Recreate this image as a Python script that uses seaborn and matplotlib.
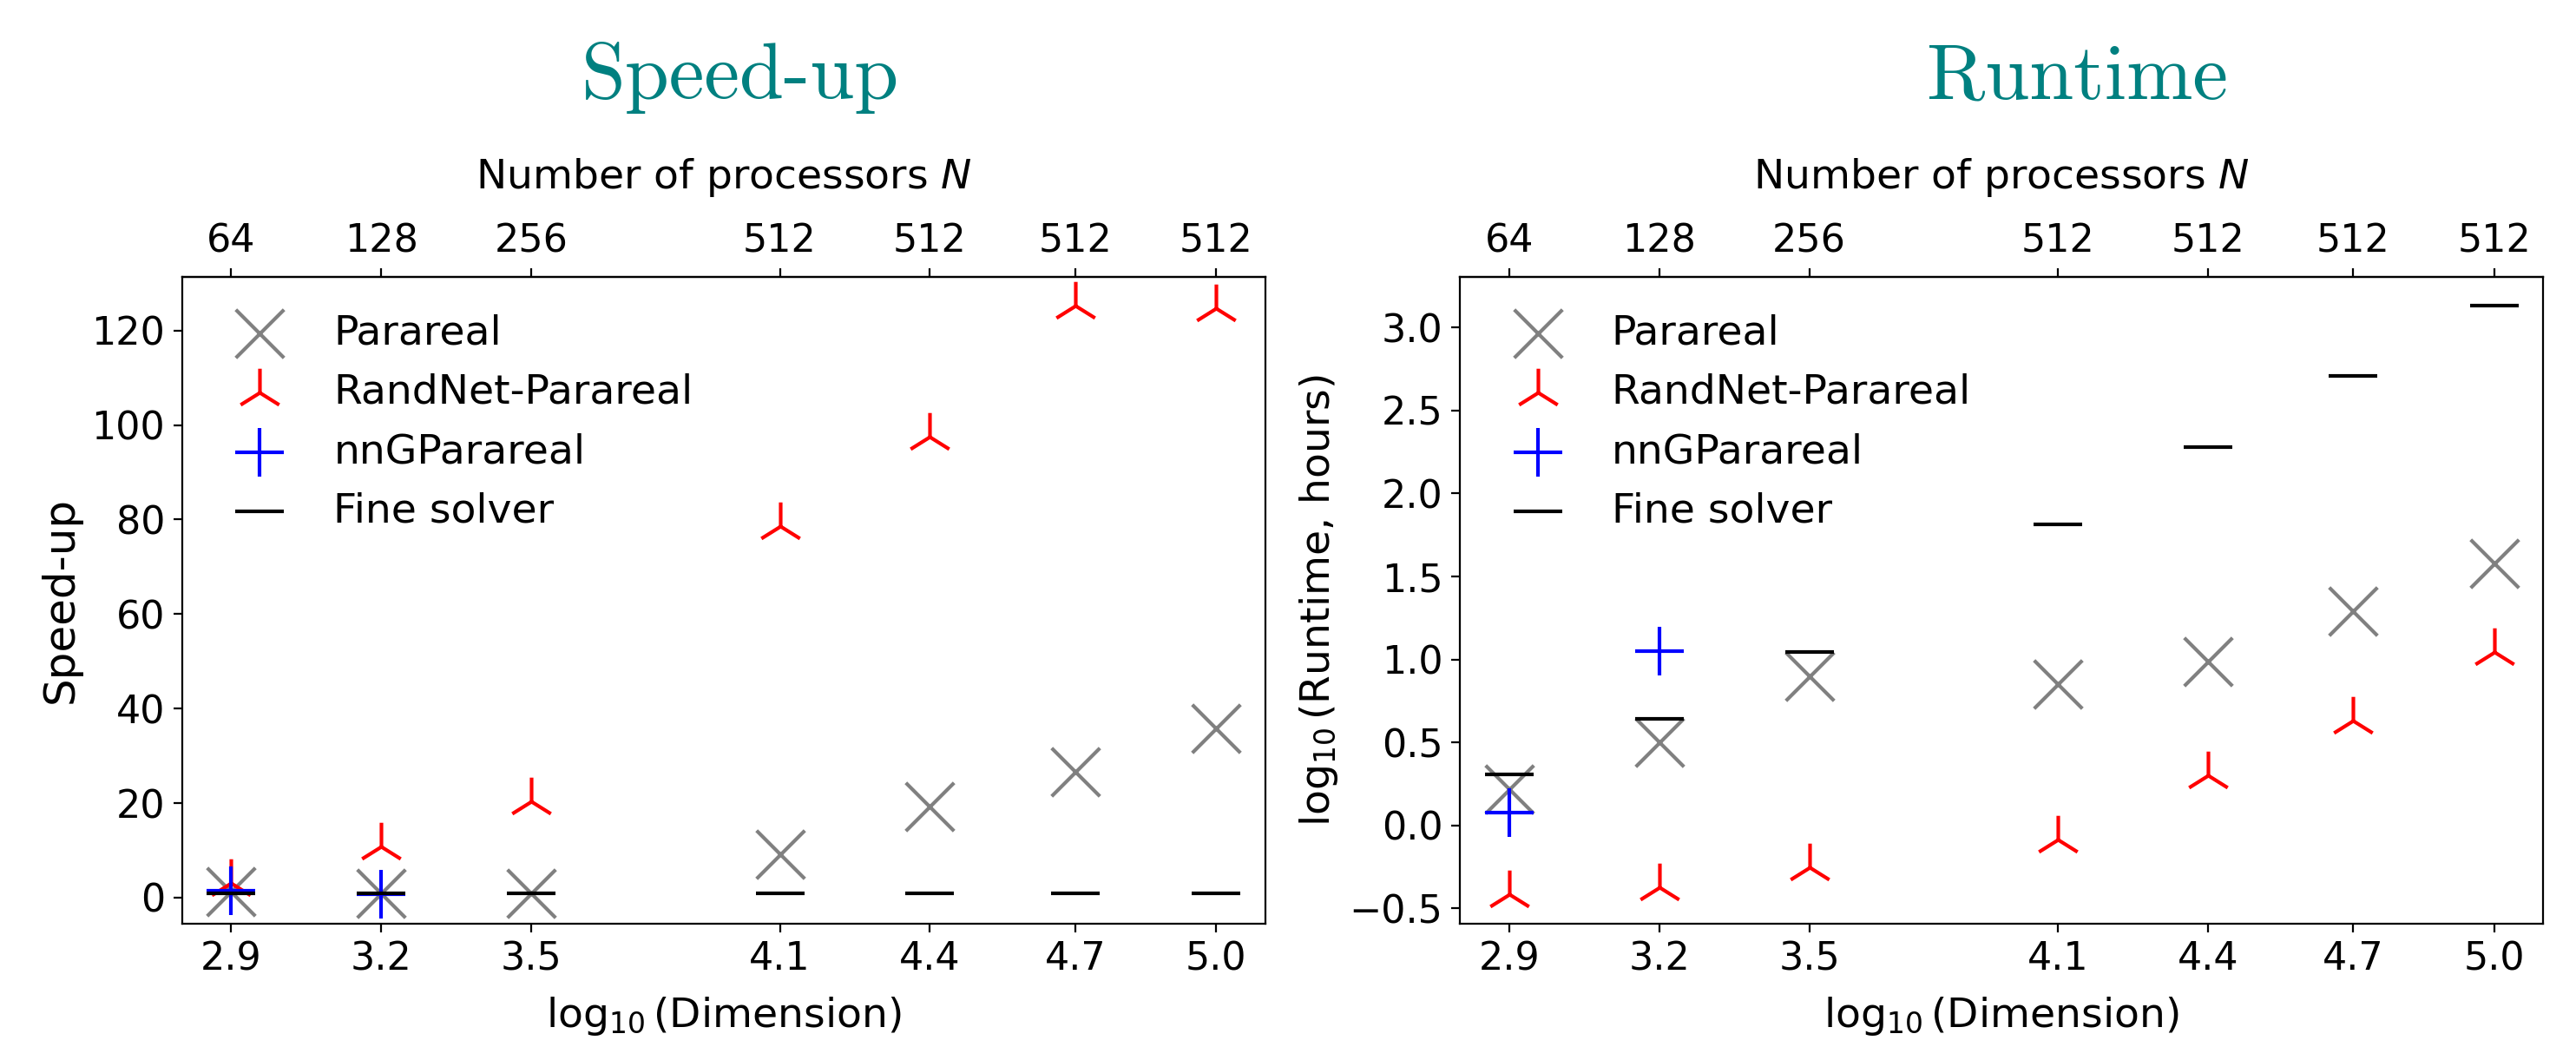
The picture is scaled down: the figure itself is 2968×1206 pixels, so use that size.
import numpy as np
import matplotlib
matplotlib.use("Agg")
import matplotlib.pyplot as plt
import seaborn as sns

# data
log_dim = [2.9, 3.22, 3.54, 4.07, 4.39, 4.70, 5.0]
dim_labels = ["2.9", "3.2", "3.5", "4.1", "4.4", "4.7", "5.0"]
n_procs = ["64", "128", "256", "512", "512", "512", "512"]

speedup_parareal = [1.3, 0.9, 1.0, 9.2, 19.2, 26.7, 35.8]
speedup_randnet = [3.1, 10.8, 20.4, 78.6, 97.6, 125.2, 124.8]
speedup_nng = [1.5, 0.7]
speedup_fine = [1, 1, 1, 1, 1, 1, 1]

runtime_parareal = [0.22, 0.50, 0.90, 0.85, 0.99, 1.29, 1.58]
runtime_randnet = [-0.415, -0.37, -0.25, -0.085, 0.30, 0.63, 1.045]
runtime_nng = [0.08, 1.05]
runtime_fine = [0.31, 0.64, 1.045, 1.815, 2.28, 2.71, 3.13]

plt.rcParams["xtick.labelsize"] = 16
plt.rcParams["ytick.labelsize"] = 16

fig = plt.figure(figsize=(14.84, 6.03), dpi=200)
ax1 = fig.add_axes([0.0706, 0.1177, 0.4206, 0.6182])
ax2 = fig.add_axes([0.5667, 0.1177, 0.4206, 0.6182])

ms = 400
lw = 1.5


def draw(ax, par, rnd, nng, fine):
    sns.scatterplot(x=log_dim, y=par, marker="x", color="gray", s=ms,
                    linewidth=lw, label="Parareal", ax=ax)
    sns.scatterplot(x=log_dim, y=rnd, marker="2", color="red", s=ms,
                    linewidth=lw, label="RandNet-Parareal", ax=ax)
    sns.scatterplot(x=log_dim[:2], y=nng, marker="+", color="blue", s=ms,
                    linewidth=lw, label="nnGParareal", ax=ax)
    sns.scatterplot(x=log_dim, y=fine, marker="_", color="black", s=ms,
                    linewidth=lw, label="Fine solver", ax=ax)
    ax.set_xticks(log_dim, labels=dim_labels)
    ax.set_xlabel(r"$\log_{10}$(Dimension)", fontsize=17, labelpad=7)
    ax.legend(loc="upper left", frameon=False, fontsize=17)
    top = ax.secondary_xaxis("top")
    top.set_xticks(log_dim, labels=n_procs)
    top.set_xlabel("Number of processors $N$", fontsize=17, labelpad=14)


draw(ax1, speedup_parareal, speedup_randnet, speedup_nng, speedup_fine)
draw(ax2, runtime_parareal, runtime_randnet, runtime_nng, runtime_fine)

ax1.set_ylabel("Speed-up", fontsize=18)
ax2.set_ylabel(r"$\log_{10}$(Runtime, hours)", fontsize=17)

fig.text(0.2874, 0.9063, "Speed-up", family="cmr10", fontsize=33,
         color="teal", ha="center", va="baseline")
fig.text(0.8066, 0.9063, "Runtime", family="cmr10", fontsize=33,
         color="teal", ha="center", va="baseline")

fig.savefig("out.png", dpi=200)
